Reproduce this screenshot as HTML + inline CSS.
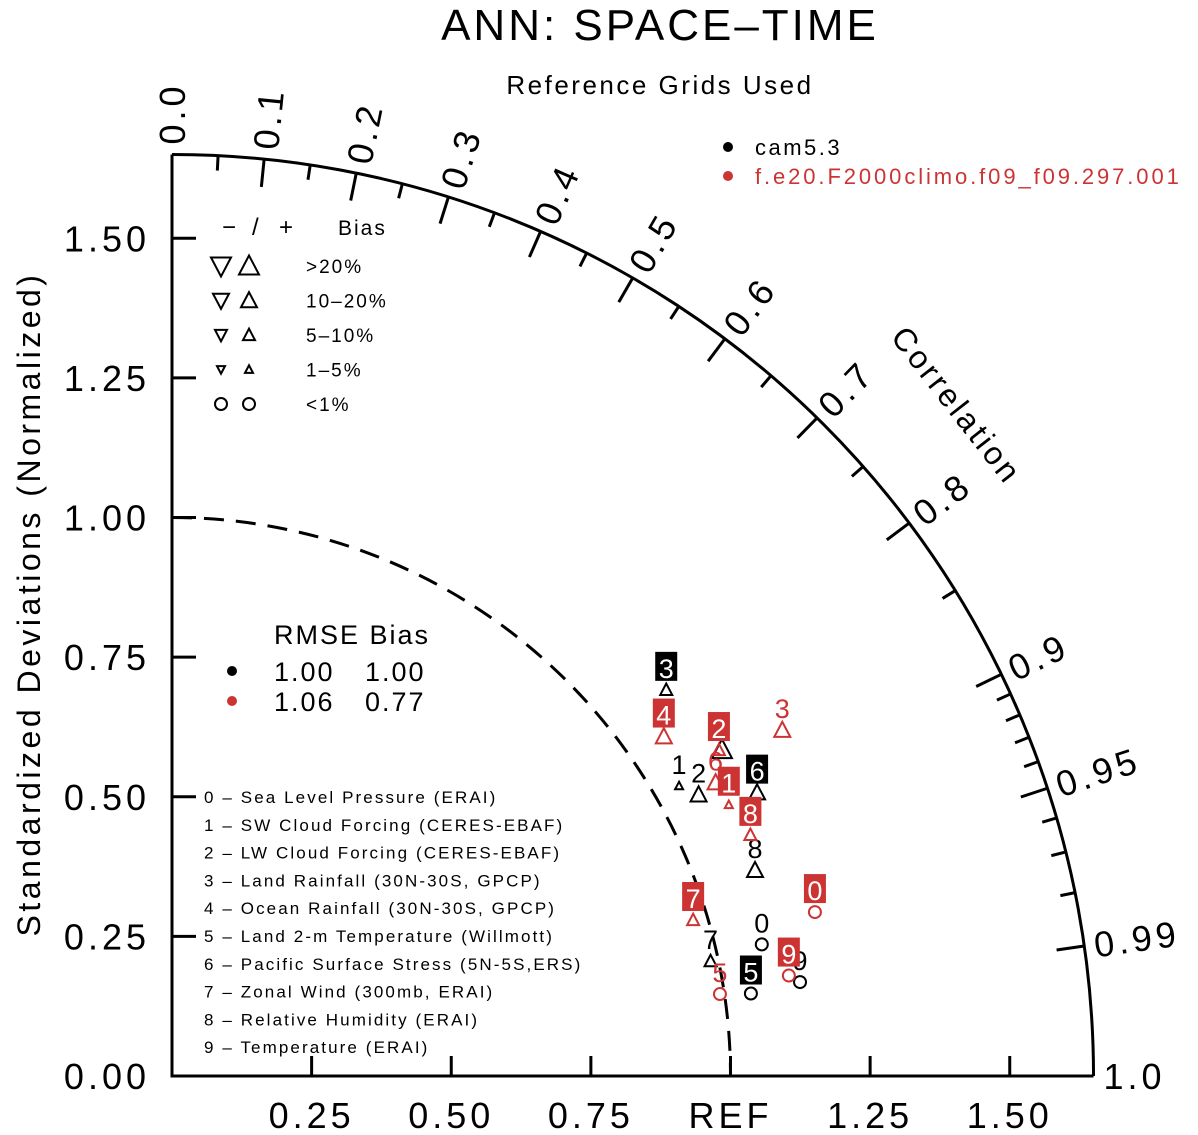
<!DOCTYPE html>
<html><head><meta charset="utf-8"><style>
html,body{margin:0;padding:0;background:#fff}
svg{display:block;font-family:"Liberation Sans",sans-serif}
</style></head><body>
<svg id="chart" width="1198" height="1135" viewBox="0 0 1198 1135">
<text x="660" y="40" font-size="44" text-anchor="middle" letter-spacing="3">ANN: SPACE–TIME</text>
<text x="660" y="94" font-size="26" text-anchor="middle" letter-spacing="2.5">Reference Grids Used</text>
<text transform="translate(40,604) rotate(-90)" font-size="32" text-anchor="middle" letter-spacing="3.5">Standardized Deviations (Normalized)</text>
<text transform="translate(948,412) rotate(52)" font-size="32" text-anchor="middle" letter-spacing="3">Correlation</text>
<g>
<circle cx="728" cy="147" r="5" fill="#000"/>
<text x="755" y="155" font-size="22" letter-spacing="2.5">cam5.3</text>
<circle cx="728" cy="176" r="5" fill="#cc3333"/>
<text x="755" y="184" font-size="22" letter-spacing="2.9" fill="#cc3333">f.e20.F2000climo.f09_f09.297.001</text>
</g>
<g id="bias-legend" font-size="19" letter-spacing="2">
<text x="222" y="235" font-size="24">−</text>
<text x="252" y="235" font-size="24">/</text>
<text x="279" y="235" font-size="24">+</text>
<text x="338" y="235" font-size="21">Bias</text>
</g>
<g font-size="27" letter-spacing="2">
<text x="274" y="644">RMSE Bias</text>
<circle cx="232" cy="671" r="5" fill="#000"/>
<text x="274" y="681">1.00</text>
<text x="365" y="681">1.00</text>
<circle cx="232" cy="701" r="5" fill="#cc3333"/>
<text x="274" y="711">1.06</text>
<text x="365" y="711">0.77</text>
</g>
<g id="varlist" font-size="17" letter-spacing="2.1"></g>
<g id="plot"></g>
</svg>
<script>
const NS="http://www.w3.org/2000/svg";
const plot=document.getElementById('plot');
const stdTicks=[0.25,0.5,0.75,1.0,1.25,1.5];
const stdTickLabels=["0.25","0.50","0.75","REF","1.25","1.50"];
const yTickLabels=["0.00","0.25","0.50","0.75","1.00","1.25","1.50"];
const corrMajor=[0.0,0.1,0.2,0.3,0.4,0.5,0.6,0.7,0.8,0.9,0.95,0.99,1.0];
const corrMajorLabels=["0.0","0.1","0.2","0.3","0.4","0.5","0.6","0.7","0.8","0.9","0.95","0.99","1.0"];
const corrMinor=[0.05,0.15,0.25,0.35,0.45,0.55,0.65,0.75,0.85,0.91,0.92,0.93,0.94,0.96,0.97,0.98];
const varNames=["Sea Level Pressure (ERAI)","SW Cloud Forcing (CERES-EBAF)","LW Cloud Forcing (CERES-EBAF)","Land Rainfall (30N-30S, GPCP)","Ocean Rainfall (30N-30S, GPCP)","Land 2-m Temperature (Willmott)","Pacific Surface Stress (5N-5S,ERS)","Zonal Wind (300mb, ERAI)","Relative Humidity (ERAI)","Temperature (ERAI)"];
// cam5.3
const camStd=[1.082,1.046,1.069,1.123,1.145,1.047,1.164,0.986,1.107,1.137];
const camCorr=[0.976,0.868,0.882,0.788,0.860,0.990,0.900,0.978,0.943,0.989];
const camBiasCat=[0,1,3,2,4,0,3,2,3,0];
const camBoxed=[0,0,0,1,0,1,1,0,0,0];
// f.e20
const f20Std=[1.188,1.109,1.140,1.256,1.070,0.992,1.106,0.974,1.122,1.119];
const f20Corr=[0.969,0.899,0.859,0.870,0.823,0.989,0.880,0.958,0.923,0.987];
const f20BiasCat=[0,1,2,3,3,0,3,2,2,0];
const f20Boxed=[1,1,1,0,1,0,0,1,1,1];
const biasLegendLabels=[">20%","10–20%","5–10%","1–5%","<1%"];
const biasLegendCats=[4,3,2,1,0];

const OX=172,OY=1076,S=558.5,RMAX=1.65;
function px(s,c){return OX+s*c*S;}
function py(s,c){return OY-s*Math.sqrt(Math.max(0,1-c*c))*S;}
function el(tag,attrs,parent){const e=document.createElementNS(NS,tag);for(const k in attrs)e.setAttribute(k,attrs[k]);(parent||plot).appendChild(e);return e;}

let a=el('path',{d:`M${OX},${OY-RMAX*S} L${OX},${OY} L${OX+RMAX*S},${OY}`,fill:'none',stroke:'#000','stroke-width':3});


let arc=el('path',{d:`M${OX},${OY-RMAX*S} A${RMAX*S},${RMAX*S} 0 0 1 ${OX+RMAX*S},${OY}`,fill:'none',stroke:'#000','stroke-width':3});


let ref=el('path',{d:`M${OX},${OY-S} A${S},${S} 0 0 1 ${OX+S},${OY}`,fill:'none',stroke:'#000','stroke-width':3,'stroke-dasharray':'20,12'});



stdTicks.forEach((v,i)=>{
  const x=OX+v*S;
  let t=el('line',{x1:x,y1:OY,x2:x,y2:OY-20,stroke:'#000','stroke-width':3});
  
  
  let l=el('text',{x:x,y:1128,'font-size':36,'text-anchor':'middle','letter-spacing':4});
  l.textContent=stdTickLabels[i];
  
  
});
yTickLabels.forEach((lab,i)=>{
  const v=i*0.25,y=OY-v*S;
  if(i>0){let t=el('line',{x1:OX,y1:y,x2:OX+24,y2:y,stroke:'#000','stroke-width':3});
  
  }
  let l=el('text',{x:150,y:y+13,'font-size':36,'text-anchor':'end','letter-spacing':4});
  l.textContent=lab;
  
  
});
corrMajor.forEach((c,i)=>{
  const th=Math.acos(c),R=RMAX*S;
  if(c>0&&c<1){let t=el('line',{x1:OX+R*Math.cos(th),y1:OY-R*Math.sin(th),x2:OX+(R-28)*Math.cos(th),y2:OY-(R-28)*Math.sin(th),stroke:'#000','stroke-width':3});
  
  }
  const r2=R+10,deg=th*180/Math.PI;
  const x=OX+r2*Math.cos(th),y=OY-r2*Math.sin(th);
  let l=el('text',{transform:`translate(${x},${y}) rotate(${-deg})`,'font-size':36,dy:13,'letter-spacing':4});
  if(c===1){l.setAttribute('transform',`translate(${x},${y})`);}
  l.textContent=corrMajorLabels[i];
  
  
});
corrMinor.forEach(c=>{
  const th=Math.acos(c),R=RMAX*S;
  let t=el('line',{x1:OX+R*Math.cos(th),y1:OY-R*Math.sin(th),x2:OX+(R-15)*Math.cos(th),y2:OY-(R-15)*Math.sin(th),stroke:'#000','stroke-width':3});
  
  
});

const triSize=[0,4,6,8,10];
function marker(parent,x,y,cat,dir,color,sw){
  let m;
  if(cat===0){m=el('circle',{cx:x,cy:y,r:6,fill:'none',stroke:color,'stroke-width':sw||2},parent);}
  else{const h=triSize[cat];const s=dir;m=el('polygon',{points:`${x-h},${y+s*h*0.85} ${x+h},${y+s*h*0.85} ${x},${y-s*h*1.05}`,fill:'none',stroke:color,'stroke-width':sw||2},parent);}
  return m;
}
const bl=document.getElementById('bias-legend');
biasLegendLabels.forEach((lab,i)=>{
  const y=266+i*34.5;
  let m1=marker(bl,221,y,biasLegendCats[i],-1,'#000',2);
  
  
  let m2=marker(bl,249,y,biasLegendCats[i],1,'#000',2);
  
  
  let t=el('text',{x:306,y:y+7},bl);
  t.textContent=lab;
  
  
});
const vl=document.getElementById('varlist');
varNames.forEach((n,i)=>{
  let t=el('text',{x:204,y:803+i*27.8},vl);
  t.textContent=i+" – "+n;
  
  
});
function drawSeries(stds,corrs,cats,boxed,color,name){
  const g=el('g',{});
  
  
  stds.forEach((s,i)=>{
    const x=px(s,corrs[i]),y=py(s,corrs[i]);
    let m=marker(g,x,y,cats[i],1,color,2);
    
    
    if(boxed[i]){let b=el('rect',{x:x-11,y:y-38,width:22,height:29,fill:color},g);
      
      }
    let t=el('text',{x:x,y:y-12,'font-size':27,'text-anchor':'middle',fill:boxed[i]?'#fff':color},g);
    t.textContent=String(i);
    
    
  });
}
drawSeries(camStd,camCorr,camBiasCat,camBoxed,'#000','series-cam5.3');
drawSeries(f20Std,f20Corr,f20BiasCat,f20Boxed,'#cc3333','series-f.e20');
</script>
</body></html>
